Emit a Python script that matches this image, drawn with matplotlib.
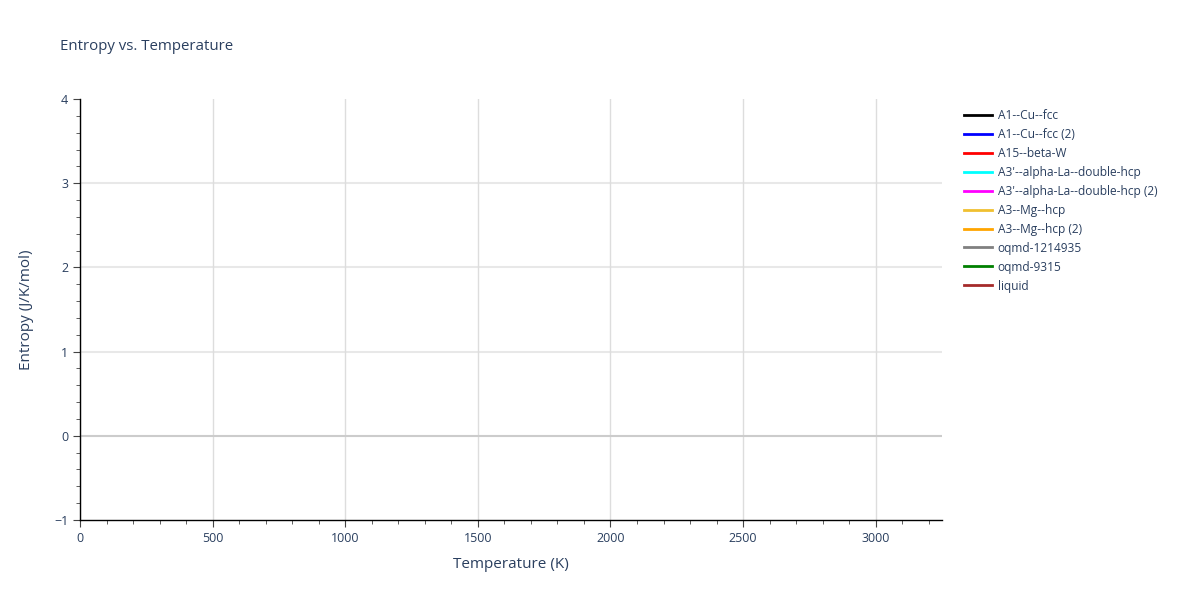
import matplotlib
matplotlib.use("Agg")
import matplotlib.pyplot as plt
from matplotlib.ticker import MultipleLocator

# phases in the legend; the traces hold no points in the reference
phases = ["A1--Cu--fcc", "A1--Cu--fcc (2)", "A15--beta-W", "A3'--alpha-La--double-hcp",
          "A3'--alpha-La--double-hcp (2)", "A3--Mg--hcp", "A3--Mg--hcp (2)",
          "oqmd-1214935", "oqmd-9315", "liquid"]
colors = ["black", "blue", "red", "cyan", "magenta", "#f0c030", "orange",
          "grey", "green", "brown"]
temperature = [[] for _ in phases]
entropy = [[] for _ in phases]

x_range = (0, 3250)
y_range = (-1, 4)

txt = "#2a3f5f"
plt.rcParams['font.family'] = ['Open Sans', 'DejaVu Sans']

fig = plt.figure(figsize=(12, 6), dpi=100)
ax = fig.add_axes([80/1200, 80/600, 862/1200, 421/600])

for name, c, t, s in zip(phases, colors, temperature, entropy):
    ax.plot(t, s, color=c, lw=2, label=name)

ax.set_xlim(*x_range)
ax.set_ylim(*y_range)
ax.xaxis.set_major_locator(MultipleLocator(500))
ax.xaxis.set_minor_locator(MultipleLocator(100))
ax.yaxis.set_major_locator(MultipleLocator(1))
ax.yaxis.set_minor_locator(MultipleLocator(0.2))

ax.grid(True, which='major', axis='x', color='#dddddd', lw=1)
# horizontal grid only inside the plot area (no line on the top edge)
for yt in ax.get_yticks():
    if y_range[0] < yt < y_range[1]:
        if yt == 0:
            ax.axhline(0, color='#cccccc', lw=1.5, zorder=0.6)
        else:
            ax.axhline(yt, color='#e8e8e8', lw=1.5, zorder=0.5)
ax.set_axisbelow(True)

for side in ['top', 'right']:
    ax.spines[side].set_visible(False)
for side in ['left', 'bottom']:
    ax.spines[side].set_color('black')
    ax.spines[side].set_linewidth(1)

ax.tick_params(which='major', length=5, color='#444444', labelcolor=txt, labelsize=9)
ax.tick_params(which='minor', length=3, color='#444444')

ax.set_xlabel('Temperature (K)', color=txt, fontsize=11, labelpad=9)
ax.set_ylabel('Entropy (J/K/mol)', color=txt, fontsize=11)
ax.yaxis.set_label_coords(-0.053, 0.5)
fig.text(60/1200, 1 - 46/600, 'Entropy vs. Temperature', color=txt, fontsize=10.8, va='center')

leg = ax.legend(loc='upper left', bbox_to_anchor=(1.017, 0.995), frameon=False,
                fontsize=8.6, handlelength=2.3, handletextpad=0.5, labelspacing=0.5,
                borderaxespad=0.25)
for t in leg.get_texts():
    t.set_color(txt)

fig.savefig('out.png', dpi=100)
